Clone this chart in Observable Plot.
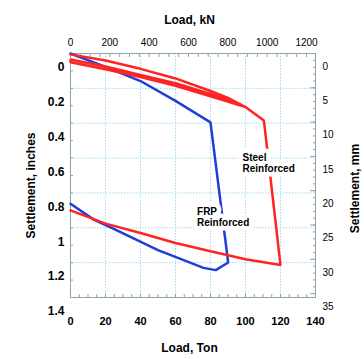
<!DOCTYPE html>
<html><head><meta charset="utf-8">
<script src="https://cdn.jsdelivr.net/npm/d3@7"></script>
<script src="https://cdn.jsdelivr.net/npm/@observablehq/plot@0.6"></script>
<style>body{margin:0;background:#fff}</style>
</head><body><div id="chart"></div>
<script>
// FRP reinforced: load (ton) / settlement (inch), in drawing order
const frpLoad   = [0, 20, 40, 60, 80, 90.1, 83, 76, 50, 25, 13.3, 0];
const frpSettle = [0, 0.077, 0.158, 0.272, 0.395, 1.199, 1.243, 1.23, 1.128, 1.008, 0.953, 0.862];
// Steel reinforced: load (ton) / settlement (inch), in drawing order
const steelLoad   = [0, 20, 40, 60, 80, 90, 100, 80, 60, 40, 20, 0, 0, 20, 40, 60, 80, 100, 110.5, 120, 100, 80, 60, 40, 20, 0];
const steelSettle = [0.005, 0.04, 0.088, 0.143, 0.215, 0.255, 0.307, 0.245, 0.185, 0.135, 0.09, 0.05, 0.035, 0.075, 0.123, 0.17, 0.232, 0.307, 0.384, 1.214, 1.18, 1.135, 1.087, 1.03, 0.976, 0.9];
// tick labels
const tonTicks  = [0, 20, 40, 60, 80, 100, 120, 140];
const kNTicks   = [0, 200, 400, 600, 800, 1000, 1200];
const inchTicks = [0, 0.2, 0.4, 0.6, 0.8, 1, 1.2, 1.4];
const mmTicks   = [0, 5, 10, 15, 20, 25, 30, 35];
// series labels
const labelNames  = ["FRP\nReinforced", "Steel\nReinforced"];
const labelLoad   = [72.3, 98.3];
const labelSettle = [0.937, 0.627];
// axis titles
const titleTop = "Load, kN";
const titleBottom = "Load, Ton";
const titleLeft = "Settlement, inches";
const titleRight = "Settlement, mm";

const KN_PER_TON = 8.896;
const MM_PER_IN = 25.4;

const axisColor = "#8ea3ab";
const gridColor = "#9fdcee";
const fmt = d => `${+(+d).toFixed(3)}`;

const frp = frpLoad.map((x, i) => [x, frpSettle[i]]);
const steel = steelLoad.map((x, i) => [x, steelSettle[i]]);
const labels = labelNames.map((t, i) => ({t, x: labelLoad[i], y: labelSettle[i]}));
const labelOpts = {x: "x", y: "y", text: "t", textAnchor: "start", lineAnchor: "middle", lineHeight: 1.1, fontWeight: "bold", fontSize: 10};
const titleOpts = {textAnchor: "middle", lineAnchor: "middle", fontWeight: "bold", fontSize: 12};

const chart = Plot.plot({
  width: 364, height: 359,
  marginLeft: 70, marginRight: 49, marginTop: 53, marginBottom: 62,
  style: {fontFamily: "'Liberation Sans', Arial, sans-serif", fontSize: "10px", background: "white", color: "black"},
  x: {domain: [0, 140]},
  y: {domain: [0, 1.4], reverse: true},
  marks: [
    Plot.gridX(tonTicks.slice(1, -1), {stroke: gridColor, strokeOpacity: 1, strokeDasharray: "1.5,1.5"}),
    Plot.gridY(inchTicks.slice(1, -1), {stroke: gridColor, strokeOpacity: 1, strokeDasharray: "1.5,1.5"}),
    Plot.frame({stroke: axisColor}),
    // inward minor ticks
    Plot.axisX(d3.range(0, 141, 5), {anchor: "bottom", tickSize: -3, fill: "none", stroke: axisColor, label: null}),
    Plot.axisX(d3.range(0, 1201, 50).map(k => k / KN_PER_TON), {anchor: "top", tickSize: -3, fill: "none", stroke: axisColor, label: null}),
    Plot.axisY(d3.range(0, 14.1, 1).map(v => v / 10), {anchor: "left", tickSize: -3, fill: "none", stroke: axisColor, label: null}),
    Plot.axisY(d3.range(0, 36, 1).map(m => m / MM_PER_IN), {anchor: "right", tickSize: -3, fill: "none", stroke: axisColor, label: null}),
    Plot.axisY(mmTicks.map(m => m / MM_PER_IN), {anchor: "right", tickSize: -6, fill: "none", stroke: axisColor, label: null}),
    // tick labels
    Plot.axisX(tonTicks, {anchor: "bottom", tickSize: 0, tickPadding: 20, fontWeight: "bold", fontSize: 11, tickFormat: fmt, label: null}),
    Plot.axisX(kNTicks.map(k => k / KN_PER_TON), {anchor: "top", tickSize: 0, tickPadding: 8, fontSize: 10, tickFormat: d => String(Math.round(d * KN_PER_TON)), label: null}),
    Plot.axisY(inchTicks, {anchor: "left", tickSize: 0, tickPadding: 6, dy: 14, fontWeight: "bold", fontSize: 12, tickFormat: fmt, label: null}),
    Plot.axisY(mmTicks.map(m => m / MM_PER_IN), {anchor: "right", tickSize: 0, tickPadding: 7, dy: 13, fontSize: 10, tickFormat: d => String(Math.round(d * MM_PER_IN)), label: null}),
    // data
    Plot.line(frp, {stroke: "#1f3ed6", strokeWidth: 2.5, strokeLinejoin: "miter"}),
    Plot.line(steel, {stroke: "#ff2424", strokeWidth: 2.5, strokeLinejoin: "miter"}),
    // series labels: white halo first, then the text
    Plot.text(labels, {...labelOpts, fill: "white", stroke: "white", strokeWidth: 9}),
    Plot.text(labels, {...labelOpts, fill: "black"}),
    // axis titles
    Plot.text([titleTop], {...titleOpts, frameAnchor: "top", dx: -3.5, dy: -33}),
    Plot.text([titleBottom], {...titleOpts, frameAnchor: "bottom", dx: -3.5, dy: 50.5}),
    Plot.text([titleLeft], {...titleOpts, frameAnchor: "left", dx: -39, dy: 10, rotate: -90}),
    Plot.text([titleRight], {...titleOpts, frameAnchor: "right", dx: 40, dy: 13, rotate: -90})
  ]
});
document.getElementById("chart").appendChild(chart);
</script>
</body></html>
